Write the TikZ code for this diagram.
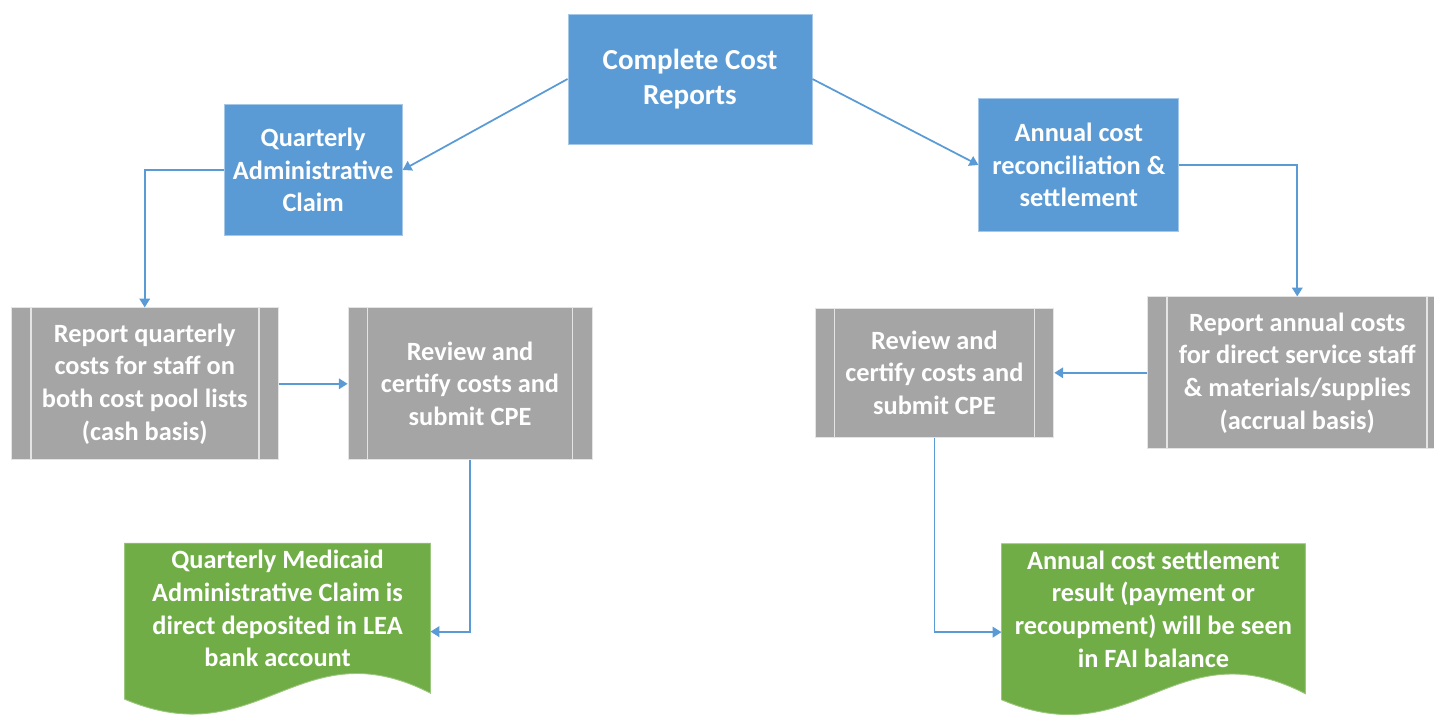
\documentclass[tikz,border=0pt]{standalone}
\usepackage{fontspec}
\setmainfont{Carlito}
\usetikzlibrary{arrows.meta, positioning, backgrounds, calc}
\definecolor{boxBlue}{RGB}{91,155,213}
\definecolor{boxGray}{RGB}{165,165,165}
\definecolor{docGreen}{RGB}{112,173,71}
\definecolor{arrBlue}{RGB}{91,155,213}
\definecolor{bdLight}{RGB}{228,228,228}
\tikzset{
  box/.style={rectangle, inner sep=2pt, align=center, text=white,
    font=\fontsize{15}{18.6}\selectfont\bfseries, line width=0.5pt},
  blueN/.style={box, fill=boxBlue, draw=boxBlue!55!white},
  grayN/.style={box, fill=boxGray, draw=bdLight, minimum height=3.04cm,
    path picture={
      \draw[bdLight, line width=1pt]
        ([xshift=0.39cm]path picture bounding box.north west) --
        ([xshift=0.39cm]path picture bounding box.south west);
      \draw[bdLight, line width=1pt]
        ([xshift=-0.39cm]path picture bounding box.north east) --
        ([xshift=-0.39cm]path picture bounding box.south east);}},
  greenN/.style={box, minimum height=2.6cm},
  docFill/.style={fill=docGreen, draw=docGreen!70!white, line width=0.5pt},
  arr/.style={-{Triangle[length=5pt,width=6pt]}, line width=1pt, color=arrBlue},
}
\begin{document}
\begin{tikzpicture}[x=0.02cm, y=-0.02cm]
\useasboundingbox (0,0) rectangle (1434,715);

%% ── TOP ─────────────────────────────────────────────
\node[blueN, minimum width=4.88cm, minimum height=2.6cm,
      font=\fontsize{16.5}{19.8}\selectfont\bfseries] (ccr) at (690,79)
  {Complete Cost\\Reports};

\node[blueN, minimum width=3.56cm, minimum height=2.62cm,
      left=3.3cm of ccr, yshift=-1.82cm] (qac)
  {Quarterly\\Administrative\\Claim};

\node[blueN, minimum width=4.0cm, minimum height=2.66cm,
      right=3.32cm of ccr, yshift=-1.72cm] (acr)
  {Annual cost\\reconciliation \&\\settlement};

\draw[arr] (ccr.west) -- (qac.east);
\draw[arr] (ccr.east) -- (acr.west);

%% ── QUARTERLY SIDE ──────────────────────────────────
\node[grayN, minimum width=5.34cm, below=1.43cm of qac, xshift=-3.37cm] (rq)
  {Report quarterly\\costs for staff on\\both cost pool lists\\(cash basis)};
\node[grayN, minimum width=4.88cm, right=1.38cm of rq] (rvl)
  {Review and\\certify costs and\\submit CPE};
\node[greenN, minimum width=6.1cm, below=1.66cm of rvl, xshift=-3.85cm] (gl)
  {Quarterly Medicaid\\Administrative Claim is\\direct deposited in LEA\\bank account};

\draw[arr] (qac.west) -| (rq.north);
\draw[arr] (rq.east) -- (rvl.west);
\draw[arr] (rvl.south) |- ([yshift=-0.46cm]gl.east);

%% ── ANNUAL SIDE ─────────────────────────────────────
\node[grayN, minimum width=5.98cm, below=1.29cm of acr, xshift=4.37cm] (ra)
  {Report annual costs\\for direct service staff\\\& materials/supplies\\(accrual basis)};
\node[grayN, minimum width=4.78cm, minimum height=2.58cm, left=1.86cm of ra] (rvr)
  {Review and\\certify costs and\\submit CPE};
\node[greenN, minimum width=6.06cm, below=2.12cm of rvr, xshift=4.38cm] (gr)
  {Annual cost settlement\\result (payment or\\recoupment) will be seen\\in FAI balance};

\draw[arr] (acr.east) -| (ra.north);
\draw[arr] (ra.west) -- (rvr.east);
\draw[arr] (rvr.south) |- ([yshift=-0.46cm]gr.west);

\begin{pgfonlayer}{background}
  \fill[docFill] (gl.north west) -- (gl.north east) -- ($(gl.north east)+(0,150)$)
    .. controls ($(gl.north)+(22,83)$) and ($(gl.north)+(-18,213)$)
    .. ($(gl.north west)+(0,156)$) -- cycle;
  \fill[docFill] (gr.north west) -- (gr.north east) -- ($(gr.north east)+(0,150)$)
    .. controls ($(gr.north)+(22,83)$) and ($(gr.north)+(-18,213)$)
    .. ($(gr.north west)+(0,156)$) -- cycle;
\end{pgfonlayer}

\end{tikzpicture}
\end{document}
